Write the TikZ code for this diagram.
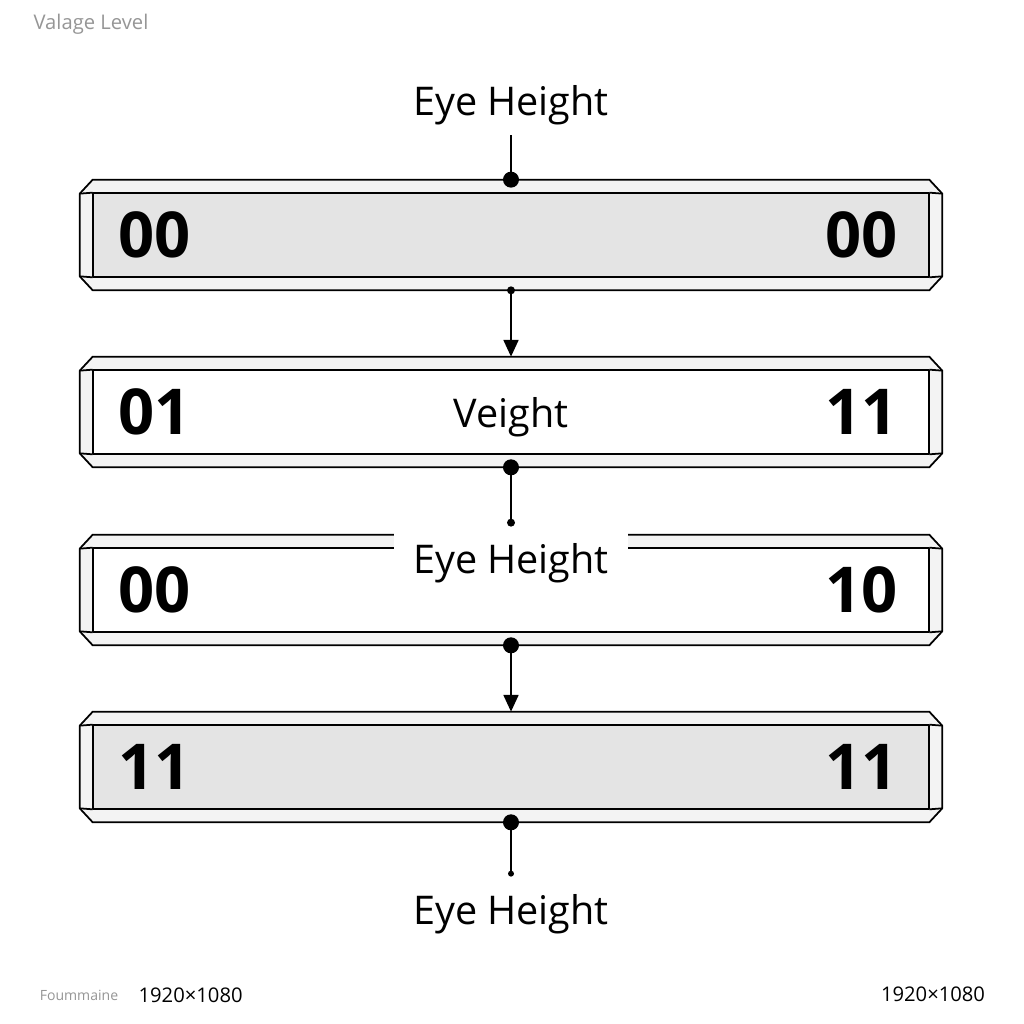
\documentclass[tikz,border=0pt]{standalone}
\usepackage{fontspec}
\setmainfont{Open Sans}
\usepackage{tikz}
\usetikzlibrary{arrows.meta,calc,positioning}
\definecolor{slabgray}{RGB}{228,228,228}
\definecolor{slabpale}{RGB}{255,255,255}
\definecolor{slabrim}{RGB}{243,243,243}
\definecolor{notegray}{RGB}{150,150,150}
\tikzset{
  slab/.style={minimum width=17.24cm, minimum height=2.2cm, inner sep=0pt},
  digits/.style={font=\fontsize{36}{36}\selectfont\bfseries, inner sep=0pt},
  midtext/.style={font=\fontsize{22.5}{22.5}\selectfont, text depth=0pt, inner sep=0pt},
  eyelabel/.style={fill=white, inner xsep=0.38cm, inner ysep=0pt, minimum height=1.4cm, text depth=0pt, font=\fontsize{22.5}{22.5}\selectfont},
  wire/.style={line width=1.1pt},
  arrow/.style={wire, -{Triangle[width=8.5pt,length=9.5pt]}},
  outline/.style={line width=1pt, line join=round},
  note/.style={font=\fontsize{11.5}{11.5}\selectfont, text=notegray},
}
% bar body: #1 node name, #2 inner fill
\newcommand{\slabbody}[2]{%
  \draw[outline, fill=slabrim]
    ($(#1.north west)+(0,-14)$) -- ($(#1.north west)+(13,0)$) -- ($(#1.north east)+(-13,0)$)
    -- ($(#1.north east)+(0,-14)$) -- ($(#1.south east)+(0,14)$) -- ($(#1.south east)+(-13,0)$)
    -- ($(#1.south west)+(13,0)$) -- ($(#1.south west)+(0,14)$) -- cycle;
  \draw[outline, fill=#2] ($(#1.north west)+(13,-13)$) rectangle ($(#1.south east)+(-13,13)$);
  \draw[outline] ($(#1.north west)+(0,-14)$) -- ($(#1.north west)+(13,-13)$)
    ($(#1.north east)+(0,-14)$) -- ($(#1.north east)+(-13,-13)$)
    ($(#1.south west)+(0,14)$) -- ($(#1.south west)+(13,13)$)
    ($(#1.south east)+(0,14)$) -- ($(#1.south east)+(-13,13)$);
}

\begin{document}
\begin{tikzpicture}[x=0.02cm, y=0.02cm]
    \useasboundingbox[fill=white] (0,0) rectangle (1024,1024);

    % Bars
    \node[slab] (b1) at (511,789) {};
    \node[slab] (b2) at (511,612) {};
    \node[slab] (b3) at (511,434) {};
    \node[slab] (b4) at (511,257) {};
    \slabbody{b1}{slabgray}
    \slabbody{b2}{slabpale}
    \slabbody{b3}{slabpale}
    \slabbody{b4}{slabgray}

    % Bit values
    \node[digits, right=0.76cm of b1.west, anchor=west] (b1l) {00};
    \node[digits, left=0.88cm of b1.east, anchor=east] (b1r) {00};
    \node[digits, right=0.76cm of b2.west, anchor=west] (b2l) {01};
    \node[midtext] (b2m) at (b2) {Veight};
    \node[digits, left=0.88cm of b2.east, anchor=east] (b2r) {11};
    \node[digits, right=0.76cm of b3.west, anchor=west] (b3l) {00};
    \node[digits, left=0.88cm of b3.east, anchor=east] (b3r) {10};
    \node[digits, right=0.76cm of b4.west, anchor=west] (b4l) {11};
    \node[digits, left=0.88cm of b4.east, anchor=east] (b4r) {11};

    % Eye height labels
    \node[eyelabel] (eye1) at (511,924) {Eye Height};
    \node[eyelabel] (eye3) at (511,466) {Eye Height};
    \node[eyelabel] (eye4) at (511,115) {Eye Height};

    % Connectors
    \draw[wire] (eye1.south) -- (b1.north);
    \draw[arrow] (b1.south) -- (b2.north);
    \draw[wire] (b2.south) -- (eye3.north);
    \draw[arrow] (b3.south) -- (b4.north);
    \draw[wire] (b4.south) -- (eye4.north);
    \fill (b1.north) circle (8);
    \fill (b1.south) circle (4);
    \fill (b2.south) circle (8);
    \fill (eye3.north) circle (4);
    \fill (b3.south) circle (8);
    \fill (b4.south) circle (8);
    \fill (eye4.north) circle (3);

    % Corner notes
    \node[note] (title) at (91,1000) {Valage Level};
    \node[note, font=\fontsize{8}{8}\selectfont] (foot) at (79,29) {Foummaine};
    \node[font=\fontsize{11.5}{11.5}\selectfont, right=0.16cm of foot] (resl) {1920×1080};
    \node[font=\fontsize{11.5}{11.5}\selectfont] (resr) at (933,30) {1920×1080};
\end{tikzpicture}
\end{document}
